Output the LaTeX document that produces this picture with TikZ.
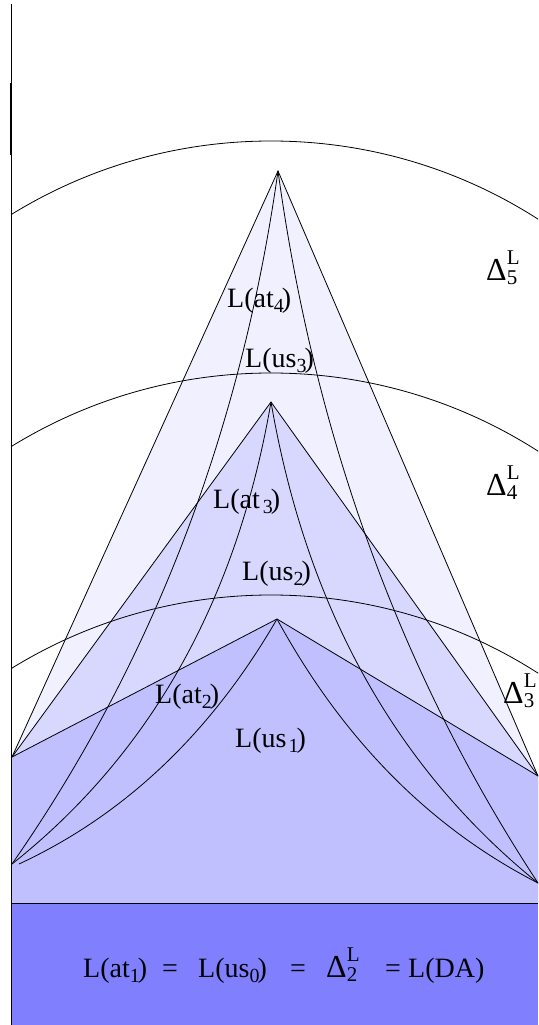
\documentclass[tikz,border=0pt]{standalone}
\usepackage{fontspec}
\setmainfont{Liberation Serif}
\usetikzlibrary{calc}
\definecolor{lvfive}{RGB}{240,240,255}
\definecolor{lvfour}{RGB}{216,216,255}
\definecolor{lvthree}{RGB}{192,192,255}
\definecolor{lvbase}{RGB}{128,128,255}
\newcommand{\lsub}[1]{\raisebox{-5pt}{\fontsize{20}{20}\selectfont #1}\kern-2pt}
\newcommand{\dlt}[1]{{\fontsize{32}{32}\selectfont Δ}\rlap{\raisebox{16pt}{\fontsize{21}{21}\selectfont L}}\raisebox{-4pt}{\fontsize{21}{21}\selectfont #1}}
\begin{document}
\begin{tikzpicture}[x=1pt,y=-1pt,
  thinline/.style={draw=black,line width=0.8pt},
  lbl/.style={inner sep=0pt,anchor=base west,font=\fontsize{28}{30}\selectfont}]
\useasboundingbox (0,0) rectangle (538,1025);
\coordinate (A5) at (278,171);
\coordinate (A4) at (271,402);
\coordinate (A3) at (277,619);
\coordinate (L) at (12,757);
\coordinate (R) at (538,776);
\coordinate (LL) at (12,864);
\coordinate (LLt) at (19,864);
\coordinate (RR) at (538,883);
\coordinate (BL) at (11,903);
\coordinate (BR) at (538,903);
\coordinate (BB) at (538,1025);
\coordinate (Q5l) at (223,561);
\coordinate (Q5r) at (333,571);
\coordinate (Q4l) at (220,699);
\coordinate (Q4r) at (324,710);
\coordinate (Q3l) at (178,790);
\coordinate (Q3r) at (376,800);
\begin{scope}
\clip (11,0) rectangle (538,1025);
% shaded levels
\fill[lvfive] (BL) -- (L) -- (A5) -- (R) -- (BR) -- cycle;
\fill[lvfour] (BL) -- (L) -- (A4) -- (R) -- (BR) -- cycle;
\fill[lvthree] (BL) -- (L) -- (A3) -- (R) -- (BR) -- cycle;
\fill[lvbase] (BL) rectangle (BB);
\draw[thinline] (BL) -- (BR);
% straight sides
\foreach \a in {A5,A4,A3}{
  \draw[thinline] (L) -- (\a) -- (R);
}
% curved sides
\draw[thinline] (A5) .. controls ($(A5)!0.6667!(Q5l)$) and ($(LL)!0.6667!(Q5l)$) .. (LL);
\draw[thinline] (A5) .. controls ($(A5)!0.6667!(Q5r)$) and ($(RR)!0.6667!(Q5r)$) .. (RR);
\draw[thinline] (A4) .. controls ($(A4)!0.6667!(Q4l)$) and ($(LL)!0.6667!(Q4l)$) .. (LL);
\draw[thinline] (A4) .. controls ($(A4)!0.6667!(Q4r)$) and ($(RR)!0.6667!(Q4r)$) .. (RR);
\draw[thinline] (A3) .. controls ($(A3)!0.6667!(Q3l)$) and ($(LLt)!0.6667!(Q3l)$) .. (LLt);
\draw[thinline] (A3) .. controls ($(A3)!0.6667!(Q3r)$) and ($(RR)!0.6667!(Q3r)$) .. (RR);
% arcs
\draw[thinline] (271,636) circle[radius=495pt];
\draw[thinline] (271,868) circle[radius=495pt];
\draw[thinline] (271,1090) circle[radius=495pt];
\end{scope}
% delta labels
\node[lbl] (d5) at (486,280) {\dlt{5}};
\node[lbl] (d4) at (486,495) {\dlt{4}};
\node[lbl] (d3) at (503,703) {\dlt{3}};
% left vertical line
\draw[line width=0.8pt] (11,4) -- (11,1025);
\draw[line width=1.4pt] (11,83) -- (11,155);
% labels
\node[lbl] (at4) at (227,307) {L(at\lsub{4})};
\node[lbl] (us3) at (245,367) {L(us\lsub{3})};
\node[lbl] (at3) at (213,508) {L(at\kern3pt\lsub{3})};
\node[lbl] (us2) at (242,580) {L(us\lsub{2})};
\node[lbl] (at2) at (155,703) {L(at\lsub{2})};
\node[lbl] (us1) at (235,747) {L(us\kern2pt\lsub{1})};
% bottom equation
\node[lbl] (b1) at (83,977) {L(at\lsub{1})};
\node[lbl] (e1) at (162,977) {=};
\node[lbl] (b2) at (198,977) {L(us\lsub{0})};
\node[lbl] (e2) at (290,977) {=};
\node[lbl] (b3) at (326,977) {\dlt{2}};
\node[lbl] (e3) at (385,977) {=};
\node[lbl] (b4) at (408,977) {L(DA)};
\end{tikzpicture}
\end{document}
